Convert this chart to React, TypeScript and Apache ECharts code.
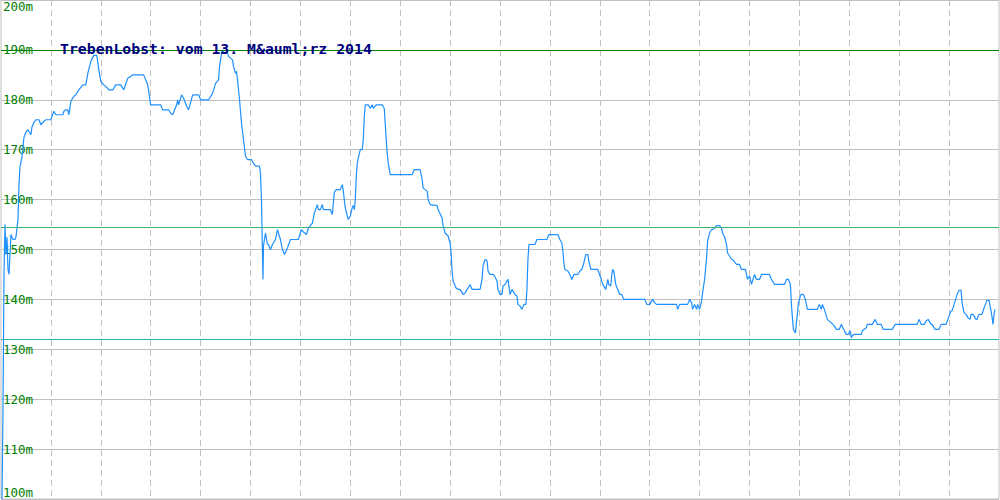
import React, { useEffect, useRef } from "react";
import * as echarts from "echarts";

// Position along the time axis (0..1000) of each sample
const samplePos = [
  1, 2, 3, 4, 5, 6, 7, 8, 9, 10, 12, 14, 15, 17, 18, 19, 21, 22, 23, 25, 27, 30, 31, 33, 35, 38, 40, 43, 45, 50,
  53, 55, 62, 63, 65, 67, 68, 70, 73, 75, 78, 82, 85, 87, 90, 93, 96, 98, 100, 103, 107, 108, 112, 115, 120, 123,
  127, 130, 132, 143, 147, 150, 160, 162, 168, 170, 172, 173, 176, 177, 178, 181, 183, 186, 188, 192, 198, 200,
  208, 212, 215, 218, 219, 221, 222, 224, 227, 228, 232, 233, 235, 236, 237, 239, 241, 243, 245, 247, 251, 253,
  255, 259, 260, 261, 262, 262.5, 263, 264, 265, 267, 268, 270, 272, 275, 277, 278, 280, 282, 284, 287, 290, 298,
  301, 303, 306, 308, 312, 314, 317, 318, 320, 322, 323, 330, 332, 333, 334, 336, 340, 342, 343, 345, 347, 348,
  350, 352, 353, 354, 355, 356, 357, 358, 360, 362, 363, 364, 365, 368, 370, 372, 373, 376, 382, 384, 385, 386,
  387, 388, 390, 412, 414, 420, 422, 423, 427, 428, 430, 437, 438, 442, 443, 445, 448, 450, 451, 452, 453, 456,
  458, 460, 463, 465, 467, 468, 470, 472, 480, 482, 483, 485, 487, 488, 490, 493, 495, 497, 498, 500, 502, 503,
  505, 507, 508, 510, 512, 513, 515, 517, 518, 520, 522, 524, 526, 527, 528, 529, 535, 537, 547, 549, 558, 560,
  562, 563, 564, 565, 568, 570, 572, 574, 578, 580, 582, 584, 586, 588, 589, 591, 598, 601, 603, 606, 607, 608,
  609, 611, 612, 613, 614, 616, 618, 620, 622, 624, 645, 647, 650, 652, 653, 655, 657, 677, 678, 680, 688, 690,
  692, 693, 695, 697, 698, 700, 702, 703, 705, 707, 708, 710, 712, 713, 715, 717, 720, 722, 723, 725, 727, 728,
  730, 732, 733, 737, 740, 742, 746, 747, 748, 750, 752, 753, 755, 757, 760, 762, 770, 772, 775, 785, 787, 789,
  791, 792, 793, 794, 796, 797, 798, 799, 801, 802, 804, 806, 808, 818, 820, 822, 823, 825, 827, 828, 832, 835,
  837, 840, 842, 845, 847, 849, 851, 852, 853, 855, 862, 863, 865, 867, 868, 873, 876, 878, 882, 884, 893, 896,
  918, 920, 922, 925, 927, 929, 932, 933, 936, 940, 942, 947, 950, 952, 953, 955, 957, 958, 960, 962, 963, 965,
  967, 969, 971, 972, 974, 977, 978, 980, 983, 985, 987, 988, 990, 992, 993, 994, 995, 996,
];

// Water level in metres at each sample
const levelM = [
  100, 118, 145, 155, 149, 152.5, 146, 145, 149, 153, 152, 152, 152.5, 156, 163, 166.5, 168.5, 170.5, 172.5, 173.5,
  174, 173, 174.5, 175.5, 176, 176, 175, 175.7, 176, 176, 177.7, 177, 177, 177.7, 178, 178, 177, 179.7, 180.7, 181,
  182, 183, 183, 185.3, 187.7, 188.9, 188.9, 186, 183.7, 183, 182.3, 182, 182, 183, 183, 182, 184.3, 184.7, 185,
  185, 183, 179, 179, 178, 178, 177.3, 177, 177.5, 179, 180, 179, 181, 180.3, 178.7, 178, 181, 181, 180, 180,
  181.3, 183.3, 184, 186.7, 189.3, 190, 189.3, 189.3, 188.7, 188, 186.7, 185.3, 185.7, 184, 180, 175.3, 172, 168.7,
  168, 168, 167.3, 166.7, 166.7, 165.3, 160, 149.3, 144, 150.7, 152, 153.3, 151, 151, 150, 151, 152, 154, 153.3,
  152, 150, 149, 150.3, 152, 152, 154, 153.5, 153, 154.3, 155.3, 157.3, 159, 158, 158, 159, 158, 158, 157, 159.3,
  161.5, 162, 162, 163, 161.7, 158.3, 156.7, 156, 156.7, 158.5, 158.8, 158, 160, 164.7, 167.3, 168.3, 170, 170,
  172, 176.7, 179, 179, 178.3, 179, 178.3, 179, 179, 178.3, 175.3, 172, 169.3, 167.3, 165, 165, 166, 166, 164,
  162.3, 161.7, 160, 159, 158.8, 158, 156.3, 154.7, 153.3, 152.7, 151.3, 149.3, 145.7, 143.7, 142.3, 142, 142, 141,
  141.3, 142, 142.3, 143, 142, 142, 144, 146.7, 148, 147.8, 145.7, 145, 145, 144.5, 143.7, 142, 141, 141, 142.7,
  143, 143.7, 144, 141, 142, 141.7, 141, 140.7, 139, 138.7, 138, 139, 139, 142, 148, 151, 151, 152, 152, 153, 153,
  152, 151.3, 149.7, 147.3, 146, 145.7, 145, 144, 145, 145, 145.7, 146, 147.3, 149, 149, 147.7, 146, 146, 144.3,
  143, 142, 143, 144, 143, 142.7, 145, 146, 145.7, 143, 142, 141, 141, 140, 140, 139, 139, 139.7, 140, 139.3, 139,
  139, 138, 139, 139, 140, 139.3, 138, 139, 138, 139, 138, 139.7, 141.3, 144, 148.3, 151.7, 153.3, 154, 154, 154.3,
  154.8, 154.8, 154.3, 153.3, 152.5, 151, 149.3, 148.7, 148, 148, 147, 147, 146, 146, 145, 144, 144.7, 143, 143.7,
  145, 144, 144, 145, 145, 144, 143, 143, 144, 144, 143, 139, 136.3, 134, 133.3, 135.3, 137, 139.3, 140.7, 141,
  141, 140, 138, 138, 139, 138, 139, 138, 136.7, 136, 135.3, 134.7, 134, 134, 135, 133.7, 133, 133, 133.7, 132.3,
  132.7, 133, 133, 133.7, 134, 134.3, 135, 135, 136, 135, 135, 134, 134, 135, 135, 136, 135, 135, 135.7, 136, 135,
  135, 134, 134, 135, 135, 136.7, 137.7, 137.7, 139, 140.3, 141, 141.8, 141.8, 139.3, 137.3, 137, 136.3, 136, 137,
  137, 136, 136, 137, 137, 138.3, 139.3, 139.8, 139.8, 137.7, 136.5, 135, 137, 138,
];

// Reference levels drawn as horizontal lines
const refLevels = [190, 154.5, 132];
const refColors = ["#008000", "#3cb371", "#20b2aa"];

const titleText = "TrebenLobst: vom 13. M&auml;rz 2014";

export default function App() {
  const ref = useRef<HTMLDivElement>(null);

  useEffect(() => {
    if (!ref.current) return;
    const chart = echarts.init(ref.current, undefined, { renderer: "svg" });
    const data = samplePos.map((x, i) => [x, levelM[i]]);
    const refSeries = refLevels.map((v, i) => ({
      type: "line",
      name: "ref" + i,
      data: [],
      z: 2,
      markLine: {
        silent: true,
        symbol: "none",
        label: { show: false },
        lineStyle: { color: refColors[i], type: "solid", width: 1, opacity: 1 },
        emphasis: { disabled: true },
        data: [{ yAxis: v }],
      },
    }));
    chart.setOption({
      animation: false,
      backgroundColor: "#ffffff",
      title: {
        text: titleText,
        left: 60,
        top: 41,
        padding: 0,
        textStyle: {
          color: "#000080",
          fontFamily: "DejaVu Sans Mono",
          fontSize: 14.8,
          fontWeight: "bold",
        },
      },
      grid: {
        left: 0,
        right: 1,
        top: 0,
        bottom: 1,
        show: true,
        borderColor: "#c0c0c0",
        borderWidth: 1,
        backgroundColor: "#ffffff",
      },
      xAxis: {
        type: "value",
        min: 0,
        max: 1000,
        interval: 50,
        axisLine: { show: false },
        axisTick: { show: false },
        axisLabel: { show: false },
        splitLine: {
          show: true,
          showMinLine: false,
          showMaxLine: false,
          lineStyle: { color: "#c0c0c0", type: [6, 4], width: 1 },
        },
      },
      yAxis: {
        type: "value",
        min: 100,
        max: 200,
        interval: 10,
        axisLine: { show: false },
        axisTick: { show: false },
        axisLabel: {
          inside: true,
          margin: 2,
          formatter: "{value}m",
          color: "#008000",
          fontFamily: "DejaVu Sans Mono",
          fontSize: 12.5,
          verticalAlignMaxLabel: "top",
          verticalAlignMinLabel: "bottom",
        },
        splitLine: { show: true, lineStyle: { color: "#c0c0c0", width: 1 } },
      },
      series: [
        {
          type: "line",
          name: "level",
          data,
          showSymbol: false,
          symbol: "none",
          lineStyle: { color: "#1e90ff", width: 1.2 },
          z: 3,
        },
        ...refSeries,
      ],
    });
    return () => chart.dispose();
  }, []);

  return (
    <div
      ref={ref}
      style={{ position: "fixed", left: 0, top: 0, width: 1000, height: 500 }}
    />
  );
}
